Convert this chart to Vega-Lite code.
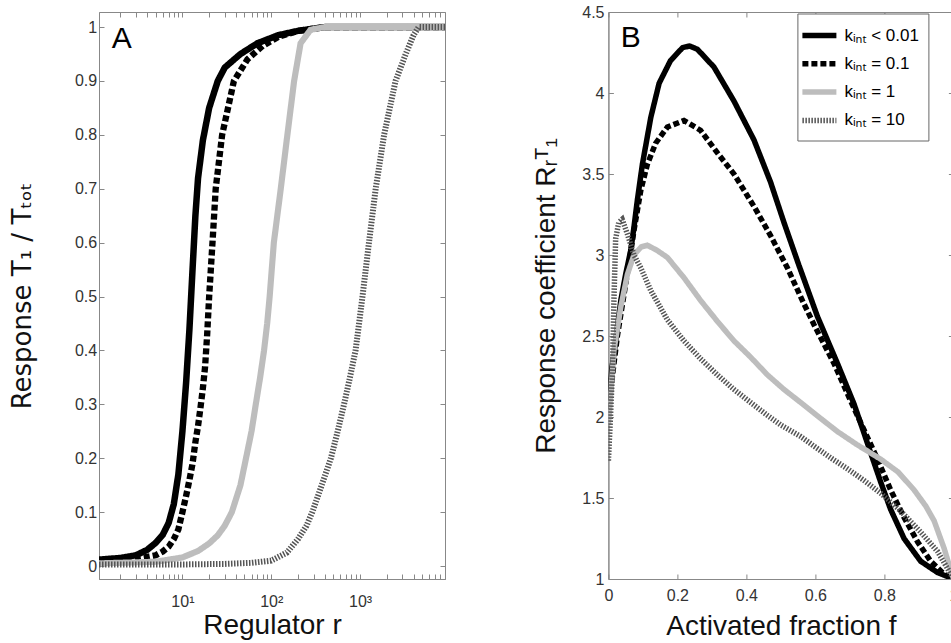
{
  "$schema": "https://vega.github.io/schema/vega-lite/v6.json",
  "bounds": "flush",
  "spacing": 163.4,
  "padding": {"left": 8, "top": 3, "right": 0, "bottom": 0},
  "background": "white",
  "config": {
    "font": "Liberation Sans, Noto Sans, DejaVu Sans",
    "view": {"stroke": "#888", "strokeWidth": 1},
    "axis": {
      "grid": false, "domainColor": "#888", "tickColor": "#888", "labelColor": "#333", "titleColor": "#111",
      "labelFontSize": 16, "titleFontSize": 28, "titleFontWeight": "normal", "labelFont": "Liberation Sans, Noto Sans, DejaVu Sans",
      "titleFont": "Liberation Sans, Noto Sans, DejaVu Sans", "tickSize": -5, "labelPadding": 6, "labelOverlap": false, "labelFlush": false
    }
  },
  "datasets": {
    "A": [
      {"k": "kᵢₙₜ < 0.01", "r": 1.15, "T": 0.012}, {"k": "kᵢₙₜ < 0.01", "r": 2, "T": 0.015}, {"k": "kᵢₙₜ < 0.01", "r": 3, "T": 0.02},
      {"k": "kᵢₙₜ < 0.01", "r": 4, "T": 0.03}, {"k": "kᵢₙₜ < 0.01", "r": 5, "T": 0.043}, {"k": "kᵢₙₜ < 0.01", "r": 6, "T": 0.058},
      {"k": "kᵢₙₜ < 0.01", "r": 7, "T": 0.08}, {"k": "kᵢₙₜ < 0.01", "r": 8, "T": 0.115}, {"k": "kᵢₙₜ < 0.01", "r": 9, "T": 0.17},
      {"k": "kᵢₙₜ < 0.01", "r": 10, "T": 0.25}, {"k": "kᵢₙₜ < 0.01", "r": 11, "T": 0.34}, {"k": "kᵢₙₜ < 0.01", "r": 12, "T": 0.44},
      {"k": "kᵢₙₜ < 0.01", "r": 13, "T": 0.55}, {"k": "kᵢₙₜ < 0.01", "r": 14, "T": 0.65}, {"k": "kᵢₙₜ < 0.01", "r": 15, "T": 0.72},
      {"k": "kᵢₙₜ < 0.01", "r": 17, "T": 0.79}, {"k": "kᵢₙₜ < 0.01", "r": 20, "T": 0.85}, {"k": "kᵢₙₜ < 0.01", "r": 25, "T": 0.9},
      {"k": "kᵢₙₜ < 0.01", "r": 30, "T": 0.925}, {"k": "kᵢₙₜ < 0.01", "r": 45, "T": 0.95}, {"k": "kᵢₙₜ < 0.01", "r": 70, "T": 0.97},
      {"k": "kᵢₙₜ < 0.01", "r": 120, "T": 0.985}, {"k": "kᵢₙₜ < 0.01", "r": 200, "T": 0.993}, {"k": "kᵢₙₜ < 0.01", "r": 400, "T": 1.0},
      {"k": "kᵢₙₜ < 0.01", "r": 9050, "T": 1.0},
      {"k": "kᵢₙₜ = 0.1", "r": 1.15, "T": 0.01}, {"k": "kᵢₙₜ = 0.1", "r": 3, "T": 0.013}, {"k": "kᵢₙₜ = 0.1", "r": 5, "T": 0.02},
      {"k": "kᵢₙₜ = 0.1", "r": 6, "T": 0.027}, {"k": "kᵢₙₜ = 0.1", "r": 7, "T": 0.036}, {"k": "kᵢₙₜ = 0.1", "r": 8, "T": 0.05},
      {"k": "kᵢₙₜ = 0.1", "r": 9, "T": 0.068}, {"k": "kᵢₙₜ = 0.1", "r": 10, "T": 0.1}, {"k": "kᵢₙₜ = 0.1", "r": 11, "T": 0.13},
      {"k": "kᵢₙₜ = 0.1", "r": 12, "T": 0.16}, {"k": "kᵢₙₜ = 0.1", "r": 13, "T": 0.19}, {"k": "kᵢₙₜ = 0.1", "r": 14, "T": 0.23},
      {"k": "kᵢₙₜ = 0.1", "r": 15, "T": 0.26}, {"k": "kᵢₙₜ = 0.1", "r": 16, "T": 0.295}, {"k": "kᵢₙₜ = 0.1", "r": 17, "T": 0.33},
      {"k": "kᵢₙₜ = 0.1", "r": 18, "T": 0.37}, {"k": "kᵢₙₜ = 0.1", "r": 19, "T": 0.43}, {"k": "kᵢₙₜ = 0.1", "r": 20, "T": 0.5},
      {"k": "kᵢₙₜ = 0.1", "r": 21.8, "T": 0.6}, {"k": "kᵢₙₜ = 0.1", "r": 23.7, "T": 0.7}, {"k": "kᵢₙₜ = 0.1", "r": 28, "T": 0.8},
      {"k": "kᵢₙₜ = 0.1", "r": 38, "T": 0.9}, {"k": "kᵢₙₜ = 0.1", "r": 54, "T": 0.94}, {"k": "kᵢₙₜ = 0.1", "r": 80, "T": 0.965},
      {"k": "kᵢₙₜ = 0.1", "r": 120, "T": 0.982}, {"k": "kᵢₙₜ = 0.1", "r": 200, "T": 0.993}, {"k": "kᵢₙₜ = 0.1", "r": 400, "T": 1.0},
      {"k": "kᵢₙₜ = 0.1", "r": 9050, "T": 1.0},
      {"k": "kᵢₙₜ = 1", "r": 1.15, "T": 0.005}, {"k": "kᵢₙₜ = 1", "r": 5, "T": 0.008}, {"k": "kᵢₙₜ = 1", "r": 10, "T": 0.016},
      {"k": "kᵢₙₜ = 1", "r": 15, "T": 0.028}, {"k": "kᵢₙₜ = 1", "r": 20, "T": 0.042}, {"k": "kᵢₙₜ = 1", "r": 25, "T": 0.057},
      {"k": "kᵢₙₜ = 1", "r": 30, "T": 0.075}, {"k": "kᵢₙₜ = 1", "r": 36, "T": 0.1}, {"k": "kᵢₙₜ = 1", "r": 45, "T": 0.15},
      {"k": "kᵢₙₜ = 1", "r": 52, "T": 0.2}, {"k": "kᵢₙₜ = 1", "r": 60, "T": 0.25}, {"k": "kᵢₙₜ = 1", "r": 67, "T": 0.3},
      {"k": "kᵢₙₜ = 1", "r": 75, "T": 0.35}, {"k": "kᵢₙₜ = 1", "r": 83, "T": 0.4}, {"k": "kᵢₙₜ = 1", "r": 90, "T": 0.45},
      {"k": "kᵢₙₜ = 1", "r": 96, "T": 0.5}, {"k": "kᵢₙₜ = 1", "r": 107, "T": 0.6}, {"k": "kᵢₙₜ = 1", "r": 128, "T": 0.7},
      {"k": "kᵢₙₜ = 1", "r": 152, "T": 0.8}, {"k": "kᵢₙₜ = 1", "r": 181, "T": 0.9}, {"k": "kᵢₙₜ = 1", "r": 214, "T": 0.97},
      {"k": "kᵢₙₜ = 1", "r": 277, "T": 0.995}, {"k": "kᵢₙₜ = 1", "r": 400, "T": 1.0}, {"k": "kᵢₙₜ = 1", "r": 9050, "T": 1.0},
      {"k": "kᵢₙₜ = 10", "r": 1.15, "T": 0.003}, {"k": "kᵢₙₜ = 10", "r": 10, "T": 0.003}, {"k": "kᵢₙₜ = 10", "r": 30, "T": 0.004},
      {"k": "kᵢₙₜ = 10", "r": 60, "T": 0.006}, {"k": "kᵢₙₜ = 10", "r": 100, "T": 0.01}, {"k": "kᵢₙₜ = 10", "r": 150, "T": 0.025},
      {"k": "kᵢₙₜ = 10", "r": 200, "T": 0.05}, {"k": "kᵢₙₜ = 10", "r": 250, "T": 0.075}, {"k": "kᵢₙₜ = 10", "r": 290, "T": 0.1},
      {"k": "kᵢₙₜ = 10", "r": 370, "T": 0.15}, {"k": "kᵢₙₜ = 10", "r": 470, "T": 0.2}, {"k": "kᵢₙₜ = 10", "r": 560, "T": 0.25},
      {"k": "kᵢₙₜ = 10", "r": 660, "T": 0.3}, {"k": "kᵢₙₜ = 10", "r": 770, "T": 0.35}, {"k": "kᵢₙₜ = 10", "r": 890, "T": 0.4},
      {"k": "kᵢₙₜ = 10", "r": 975, "T": 0.45}, {"k": "kᵢₙₜ = 10", "r": 1065, "T": 0.5}, {"k": "kᵢₙₜ = 10", "r": 1260, "T": 0.6},
      {"k": "kᵢₙₜ = 10", "r": 1500, "T": 0.7}, {"k": "kᵢₙₜ = 10", "r": 1865, "T": 0.8}, {"k": "kᵢₙₜ = 10", "r": 2510, "T": 0.9},
      {"k": "kᵢₙₜ = 10", "r": 3270, "T": 0.95}, {"k": "kᵢₙₜ = 10", "r": 4000, "T": 0.985}, {"k": "kᵢₙₜ = 10", "r": 4570, "T": 1.0},
      {"k": "kᵢₙₜ = 10", "r": 9050, "T": 1.0}
    ],
    "B": [
      {"k": "kᵢₙₜ < 0.01", "f": 0, "R": 2.1}, {"k": "kᵢₙₜ < 0.01", "f": 0.01, "R": 2.3}, {"k": "kᵢₙₜ < 0.01", "f": 0.02, "R": 2.45},
      {"k": "kᵢₙₜ < 0.01", "f": 0.036, "R": 2.72}, {"k": "kᵢₙₜ < 0.01", "f": 0.05, "R": 2.88}, {"k": "kᵢₙₜ < 0.01", "f": 0.065, "R": 3.03},
      {"k": "kᵢₙₜ < 0.01", "f": 0.074, "R": 3.17}, {"k": "kᵢₙₜ < 0.01", "f": 0.084, "R": 3.34}, {"k": "kᵢₙₜ < 0.01", "f": 0.0985, "R": 3.56},
      {"k": "kᵢₙₜ < 0.01", "f": 0.123, "R": 3.85}, {"k": "kᵢₙₜ < 0.01", "f": 0.147, "R": 4.06}, {"k": "kᵢₙₜ < 0.01", "f": 0.18, "R": 4.2},
      {"k": "kᵢₙₜ < 0.01", "f": 0.215, "R": 4.28}, {"k": "kᵢₙₜ < 0.01", "f": 0.235, "R": 4.29}, {"k": "kᵢₙₜ < 0.01", "f": 0.258, "R": 4.27},
      {"k": "kᵢₙₜ < 0.01", "f": 0.306, "R": 4.16}, {"k": "kᵢₙₜ < 0.01", "f": 0.364, "R": 3.95}, {"k": "kᵢₙₜ < 0.01", "f": 0.422, "R": 3.71},
      {"k": "kᵢₙₜ < 0.01", "f": 0.47, "R": 3.45}, {"k": "kᵢₙₜ < 0.01", "f": 0.509, "R": 3.2}, {"k": "kᵢₙₜ < 0.01", "f": 0.55, "R": 2.95},
      {"k": "kᵢₙₜ < 0.01", "f": 0.606, "R": 2.62}, {"k": "kᵢₙₜ < 0.01", "f": 0.664, "R": 2.33}, {"k": "kᵢₙₜ < 0.01", "f": 0.712, "R": 2.08},
      {"k": "kᵢₙₜ < 0.01", "f": 0.741, "R": 1.9}, {"k": "kᵢₙₜ < 0.01", "f": 0.76, "R": 1.78}, {"k": "kᵢₙₜ < 0.01", "f": 0.789, "R": 1.6},
      {"k": "kᵢₙₜ < 0.01", "f": 0.818, "R": 1.43}, {"k": "kᵢₙₜ < 0.01", "f": 0.857, "R": 1.25}, {"k": "kᵢₙₜ < 0.01", "f": 0.905, "R": 1.11},
      {"k": "kᵢₙₜ < 0.01", "f": 0.954, "R": 1.04}, {"k": "kᵢₙₜ < 0.01", "f": 1, "R": 1},
      {"k": "kᵢₙₜ = 0.1", "f": 0, "R": 2.05}, {"k": "kᵢₙₜ = 0.1", "f": 0.026, "R": 2.5}, {"k": "kᵢₙₜ = 0.1", "f": 0.05, "R": 2.82},
      {"k": "kᵢₙₜ = 0.1", "f": 0.074, "R": 3.15}, {"k": "kᵢₙₜ = 0.1", "f": 0.094, "R": 3.4}, {"k": "kᵢₙₜ = 0.1", "f": 0.113, "R": 3.56},
      {"k": "kᵢₙₜ = 0.1", "f": 0.137, "R": 3.69}, {"k": "kᵢₙₜ = 0.1", "f": 0.171, "R": 3.79}, {"k": "kᵢₙₜ = 0.1", "f": 0.219, "R": 3.83},
      {"k": "kᵢₙₜ = 0.1", "f": 0.267, "R": 3.77}, {"k": "kᵢₙₜ = 0.1", "f": 0.316, "R": 3.63}, {"k": "kᵢₙₜ = 0.1", "f": 0.364, "R": 3.5},
      {"k": "kᵢₙₜ = 0.1", "f": 0.422, "R": 3.3}, {"k": "kᵢₙₜ = 0.1", "f": 0.47, "R": 3.12}, {"k": "kᵢₙₜ = 0.1", "f": 0.519, "R": 2.92},
      {"k": "kᵢₙₜ = 0.1", "f": 0.562, "R": 2.72}, {"k": "kᵢₙₜ = 0.1", "f": 0.596, "R": 2.57}, {"k": "kᵢₙₜ = 0.1", "f": 0.654, "R": 2.33},
      {"k": "kᵢₙₜ = 0.1", "f": 0.702, "R": 2.1}, {"k": "kᵢₙₜ = 0.1", "f": 0.741, "R": 1.92}, {"k": "kᵢₙₜ = 0.1", "f": 0.78, "R": 1.74},
      {"k": "kᵢₙₜ = 0.1", "f": 0.818, "R": 1.55}, {"k": "kᵢₙₜ = 0.1", "f": 0.857, "R": 1.38}, {"k": "kᵢₙₜ = 0.1", "f": 0.896, "R": 1.23},
      {"k": "kᵢₙₜ = 0.1", "f": 0.934, "R": 1.11}, {"k": "kᵢₙₜ = 0.1", "f": 0.973, "R": 1.03}, {"k": "kᵢₙₜ = 0.1", "f": 1, "R": 1},
      {"k": "kᵢₙₜ = 1", "f": 0, "R": 1.95}, {"k": "kᵢₙₜ = 1", "f": 0.016, "R": 2.41}, {"k": "kᵢₙₜ = 1", "f": 0.036, "R": 2.68},
      {"k": "kᵢₙₜ = 1", "f": 0.055, "R": 2.88}, {"k": "kᵢₙₜ = 1", "f": 0.074, "R": 3.0}, {"k": "kᵢₙₜ = 1", "f": 0.095, "R": 3.05},
      {"k": "kᵢₙₜ = 1", "f": 0.113, "R": 3.06}, {"k": "kᵢₙₜ = 1", "f": 0.14, "R": 3.03}, {"k": "kᵢₙₜ = 1", "f": 0.171, "R": 2.985},
      {"k": "kᵢₙₜ = 1", "f": 0.219, "R": 2.86}, {"k": "kᵢₙₜ = 1", "f": 0.267, "R": 2.72}, {"k": "kᵢₙₜ = 1", "f": 0.316, "R": 2.59},
      {"k": "kᵢₙₜ = 1", "f": 0.364, "R": 2.47}, {"k": "kᵢₙₜ = 1", "f": 0.412, "R": 2.37}, {"k": "kᵢₙₜ = 1", "f": 0.461, "R": 2.26},
      {"k": "kᵢₙₜ = 1", "f": 0.509, "R": 2.17}, {"k": "kᵢₙₜ = 1", "f": 0.557, "R": 2.09}, {"k": "kᵢₙₜ = 1", "f": 0.61, "R": 2.0},
      {"k": "kᵢₙₜ = 1", "f": 0.664, "R": 1.91}, {"k": "kᵢₙₜ = 1", "f": 0.72, "R": 1.83}, {"k": "kᵢₙₜ = 1", "f": 0.789, "R": 1.74},
      {"k": "kᵢₙₜ = 1", "f": 0.84, "R": 1.66}, {"k": "kᵢₙₜ = 1", "f": 0.886, "R": 1.55}, {"k": "kᵢₙₜ = 1", "f": 0.92, "R": 1.45},
      {"k": "kᵢₙₜ = 1", "f": 0.944, "R": 1.36}, {"k": "kᵢₙₜ = 1", "f": 0.973, "R": 1.19}, {"k": "kᵢₙₜ = 1", "f": 0.99, "R": 1.07},
      {"k": "kᵢₙₜ = 1", "f": 1, "R": 1},
      {"k": "kᵢₙₜ = 10", "f": 0, "R": 1.73}, {"k": "kᵢₙₜ = 10", "f": 0.006, "R": 2.0}, {"k": "kᵢₙₜ = 10", "f": 0.012, "R": 2.3},
      {"k": "kᵢₙₜ = 10", "f": 0.016, "R": 2.72}, {"k": "kᵢₙₜ = 10", "f": 0.021, "R": 3.1}, {"k": "kᵢₙₜ = 10", "f": 0.03, "R": 3.2},
      {"k": "kᵢₙₜ = 10", "f": 0.04, "R": 3.22}, {"k": "kᵢₙₜ = 10", "f": 0.055, "R": 3.13}, {"k": "kᵢₙₜ = 10", "f": 0.074, "R": 3.0},
      {"k": "kᵢₙₜ = 10", "f": 0.094, "R": 2.92}, {"k": "kᵢₙₜ = 10", "f": 0.123, "R": 2.78}, {"k": "kᵢₙₜ = 10", "f": 0.171, "R": 2.6},
      {"k": "kᵢₙₜ = 10", "f": 0.219, "R": 2.47}, {"k": "kᵢₙₜ = 10", "f": 0.267, "R": 2.36}, {"k": "kᵢₙₜ = 10", "f": 0.316, "R": 2.26},
      {"k": "kᵢₙₜ = 10", "f": 0.364, "R": 2.17}, {"k": "kᵢₙₜ = 10", "f": 0.412, "R": 2.09}, {"k": "kᵢₙₜ = 10", "f": 0.461, "R": 2.01},
      {"k": "kᵢₙₜ = 10", "f": 0.5, "R": 1.95}, {"k": "kᵢₙₜ = 10", "f": 0.557, "R": 1.88}, {"k": "kᵢₙₜ = 10", "f": 0.596, "R": 1.82},
      {"k": "kᵢₙₜ = 10", "f": 0.65, "R": 1.74}, {"k": "kᵢₙₜ = 10", "f": 0.693, "R": 1.68}, {"k": "kᵢₙₜ = 10", "f": 0.74, "R": 1.61},
      {"k": "kᵢₙₜ = 10", "f": 0.789, "R": 1.53}, {"k": "kᵢₙₜ = 10", "f": 0.847, "R": 1.42}, {"k": "kᵢₙₜ = 10", "f": 0.905, "R": 1.29},
      {"k": "kᵢₙₜ = 10", "f": 0.954, "R": 1.17}, {"k": "kᵢₙₜ = 10", "f": 0.987, "R": 1.05}, {"k": "kᵢₙₜ = 10", "f": 1, "R": 1}
    ]
  },
  "resolve": {"scale": {"color": "independent", "strokeDash": "independent", "strokeWidth": "independent"}},
  "hconcat": [
    {
      "width": 346,
      "height": 567,
      "layer": [
        {
          "data": {"name": "A"},
          "mark": {"type": "line", "strokeCap": "butt", "clip": true},
          "encoding": {
            "x": {"field": "r", "type": "quantitative",
              "scale": {"type": "log", "domain": [1.15, 9050], "nice": false},
              "axis": {"orient": "bottom", "title": "Regulator r", "titlePadding": 2, "labelPadding": 19.5,
                "values": [2,3,4,5,6,7,8,9,10,20,30,40,50,60,70,80,90,100,200,300,400,500,600,700,800,900,1000,2000,3000,4000,5000,6000,7000,8000,9000],
                "labelExpr": "datum.value == 10 ? '10¹' : datum.value == 100 ? '10²' : datum.value == 1000 ? '10³' : ''"}},
            "y": {"field": "T", "type": "quantitative",
              "scale": {"domain": [-0.024, 1.028], "nice": false, "zero": false},
              "axis": {"orient": "left", "title": "Response T₁ / Tₜₒₜ", "titlePadding": 39, "labelPadding": 7.3,
                "titleFont": "DejaVu Sans", "titleFontSize": 26,
                "values": [0,0.1,0.2,0.3,0.4,0.5,0.6,0.7,0.8,0.9,1], "format": "~g"}},
            "color": {"field": "k", "type": "nominal",
              "scale": {"domain": ["kᵢₙₜ < 0.01", "kᵢₙₜ = 0.1", "kᵢₙₜ = 1", "kᵢₙₜ = 10"], "range": ["#000000", "#000000", "#bdbdbd", "#555555"]},
              "legend": null},
            "strokeDash": {"field": "k", "type": "nominal",
              "scale": {"domain": ["kᵢₙₜ < 0.01", "kᵢₙₜ = 0.1", "kᵢₙₜ = 1", "kᵢₙₜ = 10"], "range": [[1, 0], [6, 3], [1, 0], [1.5, 1.5]]},
              "legend": null},
            "strokeWidth": {"field": "k", "type": "nominal",
              "scale": {"domain": ["kᵢₙₜ < 0.01", "kᵢₙₜ = 0.1", "kᵢₙₜ = 1", "kᵢₙₜ = 10"], "range": [6.5, 6, 6, 7]},
              "legend": null}
          }
        },
        {
          "data": {"values": [{"r": 1.6, "T": 0.962, "label": "A"}]},
          "mark": {"type": "text", "align": "left", "baseline": "alphabetic", "fontSize": 30, "font": "Liberation Sans", "color": "#000"},
          "encoding": {
            "x": {"field": "r", "type": "quantitative",
              "scale": {"type": "log", "domain": [1.15, 9050], "nice": false},
              "axis": {"orient": "top", "title": null, "labels": false, "domain": false,
                "values": [2,3,4,5,6,7,8,9,10,20,30,40,50,60,70,80,90,100,200,300,400,500,600,700,800,900,1000,2000,3000,4000,5000,6000,7000,8000,9000]}},
            "y": {"field": "T", "type": "quantitative",
              "scale": {"domain": [-0.024, 1.028], "nice": false, "zero": false},
              "axis": {"orient": "right", "title": null, "labels": false, "domain": false,
                "values": [0,0.1,0.2,0.3,0.4,0.5,0.6,0.7,0.8,0.9,1]}},
            "text": {"field": "label"}
          }
        }
      ],
      "resolve": {"axis": {"x": "independent", "y": "independent"}}
    },
    {
      "width": 345,
      "height": 567,
      "layer": [
        {
          "data": {"name": "B"},
          "mark": {"type": "line", "strokeCap": "butt", "clip": true},
          "encoding": {
            "x": {"field": "f", "type": "quantitative",
              "scale": {"domain": [0, 1], "nice": false},
              "axis": {"orient": "bottom", "title": "Activated fraction f", "titlePadding": 9, "labelPadding": 13.4,
                "values": [0,0.2,0.4,0.6,0.8,1], "format": "~g"}},
            "y": {"field": "R", "type": "quantitative",
              "scale": {"domain": [1, 4.5], "nice": false, "zero": false},
              "axis": {"orient": "left", "title": "Response coefficient Rᵣᵀ₁", "titlePadding": 21, "labelPadding": 9.4,
                "values": [1,1.5,2,2.5,3,3.5,4,4.5], "format": "~g"}},
            "color": {"field": "k", "type": "nominal",
              "scale": {"domain": ["kᵢₙₜ < 0.01", "kᵢₙₜ = 0.1", "kᵢₙₜ = 1", "kᵢₙₜ = 10"], "range": ["#000000", "#000000", "#bdbdbd", "#555555"]},
              "legend": {"orient": "none", "legendX": 189, "legendY": 1.5, "title": null,
                "symbolType": "M-1.7,0H1.7", "symbolSize": 400, "symbolStrokeWidth": 6,
                "labelFontSize": 17, "labelFont": "Liberation Sans, Noto Sans, DejaVu Sans", "labelColor": "#000",
                "padding": 9, "fillColor": "#ffffff", "strokeColor": "#666666", "rowPadding": 4.3, "labelOffset": 12}},
            "strokeDash": {"field": "k", "type": "nominal",
              "scale": {"domain": ["kᵢₙₜ < 0.01", "kᵢₙₜ = 0.1", "kᵢₙₜ = 1", "kᵢₙₜ = 10"], "range": [[1, 0], [6, 3], [1, 0], [1.5, 1.5]]},
              "legend": {"orient": "none", "legendX": 189, "legendY": 1.5, "title": null,
                "symbolType": "M-1.7,0H1.7", "symbolSize": 400, "symbolStrokeWidth": 6,
                "labelFontSize": 17, "labelFont": "Liberation Sans, Noto Sans, DejaVu Sans", "labelColor": "#000",
                "padding": 9, "fillColor": "#ffffff", "strokeColor": "#666666", "rowPadding": 4.3, "labelOffset": 12}},
            "strokeWidth": {"field": "k", "type": "nominal",
              "scale": {"domain": ["kᵢₙₜ < 0.01", "kᵢₙₜ = 0.1", "kᵢₙₜ = 1", "kᵢₙₜ = 10"], "range": [5.5, 5.5, 5.5, 6]},
              "legend": null}
          }
        },
        {
          "data": {"values": [{"f": 0.036, "R": 4.284, "label": "B"}]},
          "mark": {"type": "text", "align": "left", "baseline": "alphabetic", "fontSize": 30, "font": "Liberation Sans", "color": "#000"},
          "encoding": {
            "x": {"field": "f", "type": "quantitative",
              "scale": {"domain": [0, 1], "nice": false},
              "axis": {"orient": "top", "title": null, "labels": false, "domain": false,
                "values": [0,0.2,0.4,0.6,0.8,1]}},
            "y": {"field": "R", "type": "quantitative",
              "scale": {"domain": [1, 4.5], "nice": false, "zero": false},
              "axis": {"orient": "right", "title": null, "labels": false, "domain": false,
                "values": [1,1.5,2,2.5,3,3.5,4,4.5]}},
            "text": {"field": "label"}
          }
        }
      ],
      "resolve": {"axis": {"x": "independent", "y": "independent"}}
    }
  ]
}
